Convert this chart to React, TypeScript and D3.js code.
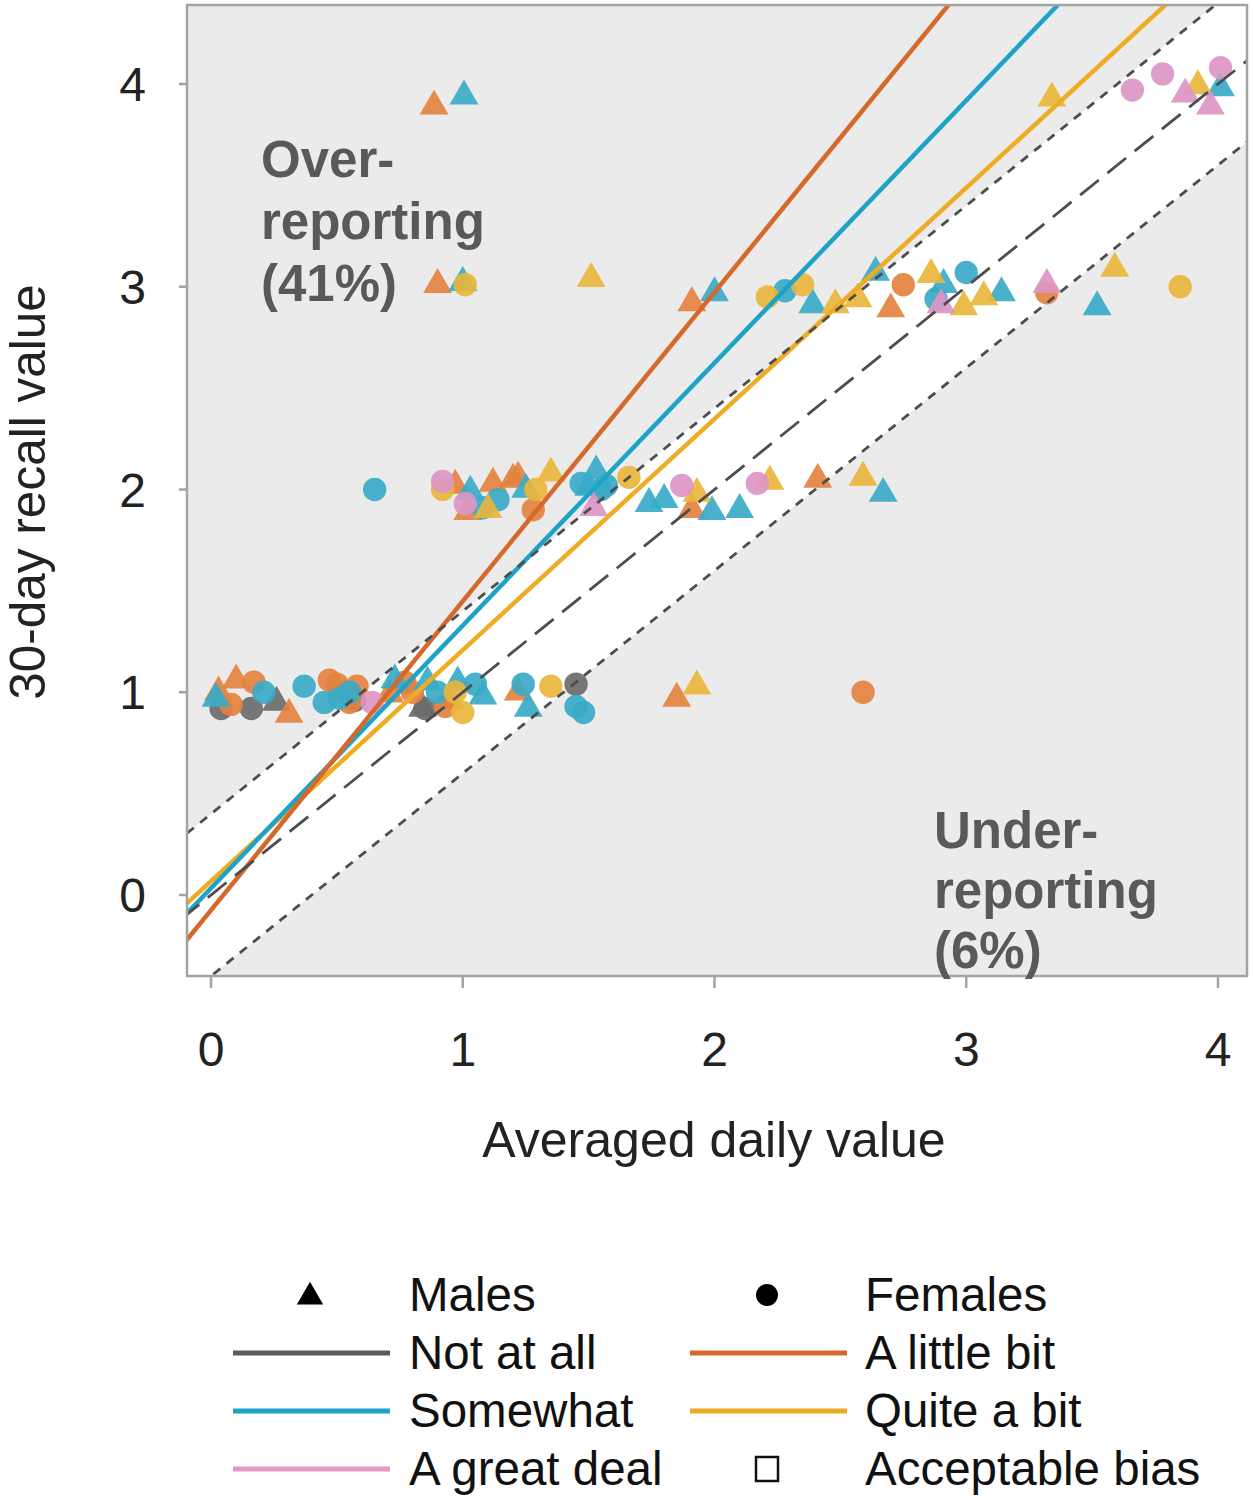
import * as d3 from 'd3';

type Pt = [number, number, 'M' | 'F'];

// categories (legend order)
const groups = ['Not at all', 'A little bit', 'Somewhat', 'Quite a bit', 'A great deal'];

// points per group: [averaged daily, 30-day recall, sex]
const notAtAll: Pt[] = [
  [0.26, 0.96, 'M'], [0.84, 0.93, 'M'],
  [0.04, 0.92, 'F'], [0.16, 0.92, 'F'], [0.57, 0.96, 'F'], [0.85, 0.92, 'F'], [1.45, 1.04, 'F'],
];
const aLittleBit: Pt[] = [
  [0.886, 3.9, 'M'], [0.9, 3.02, 'M'], [1.91, 2.93, 'M'], [2.7, 2.9, 'M'], [0.97, 2.03, 'M'],
  [1.02, 1.9, 'M'], [1.12, 2.04, 'M'], [1.2, 2.06, 'M'], [1.22, 2.07, 'M'], [1.91, 1.91, 'M'],
  [2.41, 2.06, 'M'], [0.03, 1.01, 'M'], [0.1, 1.07, 'M'], [0.31, 0.9, 'M'], [0.71, 1.0, 'M'],
  [0.95, 0.97, 'M'], [1.22, 1.01, 'M'], [1.85, 0.98, 'M'],
  [2.75, 3.01, 'F'], [3.32, 2.97, 'F'], [1.28, 1.9, 'F'], [0.08, 0.94, 'F'], [0.17, 1.05, 'F'],
  [0.47, 1.06, 'F'], [0.5, 1.04, 'F'], [0.53, 1.0, 'F'], [0.58, 1.03, 'F'], [0.77, 1.05, 'F'],
  [0.8, 1.0, 'F'], [0.93, 0.93, 'F'], [0.55, 0.95, 'F'], [2.59, 1.0, 'F'],
];
const somewhat: Pt[] = [
  [1.005, 3.95, 'M'], [1.0, 3.03, 'M'], [2.0, 2.98, 'M'], [2.39, 2.92, 'M'], [2.64, 3.08, 'M'],
  [2.91, 3.02, 'M'], [3.14, 2.98, 'M'], [3.52, 2.91, 'M'], [4.01, 3.99, 'M'], [1.03, 2.0, 'M'],
  [1.25, 2.01, 'M'], [1.53, 2.1, 'M'], [1.74, 1.94, 'M'], [1.8, 1.96, 'M'], [1.99, 1.9, 'M'],
  [2.1, 1.91, 'M'], [2.67, 1.99, 'M'], [0.02, 0.98, 'M'], [0.73, 1.07, 'M'], [0.86, 1.06, 'M'],
  [0.98, 1.06, 'M'], [1.08, 0.99, 'M'], [1.26, 0.93, 'M'], [1.5, 2.02, 'M'],
  [2.28, 2.98, 'F'], [2.88, 2.94, 'F'], [3.0, 3.07, 'F'], [0.65, 2.0, 'F'], [1.08, 1.91, 'F'],
  [1.14, 1.95, 'F'], [1.47, 2.03, 'F'], [1.55, 2.0, 'F'], [1.57, 2.02, 'F'], [0.21, 1.0, 'F'],
  [0.37, 1.03, 'F'], [0.45, 0.95, 'F'], [0.51, 0.97, 'F'], [0.55, 1.0, 'F'], [0.9, 1.0, 'F'],
  [1.05, 1.04, 'F'], [1.24, 1.04, 'F'], [1.45, 0.93, 'F'], [1.48, 0.9, 'F'],
];
const quiteABit: Pt[] = [
  [3.34, 3.94, 'M'], [3.92, 4.0, 'M'], [1.51, 3.05, 'M'], [2.48, 2.92, 'M'], [2.57, 2.95, 'M'],
  [2.86, 3.07, 'M'], [2.99, 2.91, 'M'], [3.07, 2.96, 'M'], [3.59, 3.1, 'M'], [1.35, 2.09, 'M'],
  [1.1, 1.91, 'M'], [1.93, 1.99, 'M'], [2.22, 2.05, 'M'], [2.59, 2.07, 'M'], [1.93, 1.04, 'M'],
  [1.01, 3.01, 'F'], [2.21, 2.95, 'F'], [2.35, 3.01, 'F'], [3.85, 3.0, 'F'], [0.92, 2.0, 'F'],
  [1.29, 2.0, 'F'], [1.66, 2.06, 'F'], [1.0, 0.9, 'F'], [1.35, 1.03, 'F'], [0.97, 1.0, 'F'],
];
const aGreatDeal: Pt[] = [
  [3.87, 3.96, 'M'], [3.97, 3.9, 'M'], [3.32, 3.02, 'M'], [2.9, 2.92, 'M'], [1.52, 1.92, 'M'],
  [3.66, 3.97, 'F'], [3.78, 4.05, 'F'], [4.01, 4.08, 'F'], [0.92, 2.04, 'F'], [1.01, 1.93, 'F'],
  [1.87, 2.02, 'F'], [2.17, 2.03, 'F'], [0.64, 0.95, 'F'],
];
const pointsByGroup = [notAtAll, aLittleBit, somewhat, quiteABit, aGreatDeal];

// fitted lines visible in the panel: [group index, intercept, slope]
const fits: [number, number, number][] = [
  [3, 0.068, 1.14],
  [2, 0.034, 1.295],
  [1, -0.075, 1.524],
];
const biasBand = 0.4;

const xTicks = [0, 1, 2, 3, 4];
const yTicks = [0, 1, 2, 3, 4];

const pointColors = ['#6b6b6b', '#e3823f', '#3aaac7', '#e9b53d', '#dc96c6'];
const lineColors = ['#5a5a5a', '#d5692b', '#1ea3c8', '#eeac25', '#e29ac5'];

const W = 1253;
const H = 1500;
const panel = { left: 187, right: 1247, top: 5, bottom: 976 };
const font = '"Liberation Sans", Arial, sans-serif';

export default function App() {
  const x = d3.scaleLinear().domain([0, 4]).range([211, 1218]);
  const y = d3.scaleLinear().domain([0, 4]).range([895, 84]);
  const x0 = x.invert(panel.left);
  const x1 = x.invert(panel.right);

  const band = d3.area<number>()
    .x((d) => x(d))
    .y0((d) => y(d - biasBand))
    .y1((d) => y(d + biasBand));
  const line = d3.line<[number, number]>().x((d) => x(d[0])).y((d) => y(d[1]));
  const tri = d3.symbol(d3.symbolTriangle, 360)()!;
  const circ = d3.symbol(d3.symbolCircle, 430)()!;
  const legTri = d3.symbol(d3.symbolTriangle, 300)()!;
  const legCirc = d3.symbol(d3.symbolCircle, 380)()!;

  const allPts = pointsByGroup.flatMap((pts, g) => pts.map((p) => ({ x: p[0], y: p[1], sex: p[2], g })));

  const legendRows = [
    { label: 'Males', kind: 'tri' }, { label: 'Females', kind: 'circ' },
    { label: groups[0], kind: 'line', c: lineColors[0] }, { label: groups[1], kind: 'line', c: lineColors[1] },
    { label: groups[2], kind: 'line', c: lineColors[2] }, { label: groups[3], kind: 'line', c: lineColors[3] },
    { label: groups[4], kind: 'line', c: lineColors[4] }, { label: 'Acceptable bias', kind: 'square' },
  ];

  return (
    <div style={{ position: 'absolute', left: 0, top: 0 }}>
      <svg width={W} height={H} style={{ display: 'block', background: '#fff' }}>
        <defs>
          <clipPath id="panel">
            <rect x={panel.left} y={panel.top} width={panel.right - panel.left} height={panel.bottom - panel.top} />
          </clipPath>
        </defs>
        <rect x={panel.left} y={panel.top} width={panel.right - panel.left} height={panel.bottom - panel.top} fill="#ebebeb" />
        <g clipPath="url(#panel)">
          <path d={band([x0 - 1, x1 + 1])!} fill="#ffffff" />
          {allPts.map((p, i) => (
            <path key={i} d={p.sex === 'M' ? tri : circ}
              transform={`translate(${x(p.x)},${y(p.y) + (p.sex === 'M' ? 2 : 0)})`}
              fill={pointColors[p.g]} fillOpacity={0.92} />
          ))}
          {fits.map(([g, a, b]) => (
            <path key={g} d={line([[x0 - 0.1, a + b * (x0 - 0.1)], [x1, a + b * x1]])!}
              stroke={lineColors[g]} strokeWidth={4.5} fill="none" />
          ))}
          <path d={line([[x0 - 1, x0 - 1], [x1 + 1, x1 + 1]])!} stroke="#4d4d4d" strokeWidth={2.8} strokeDasharray="24,11" fill="none" />
          {[biasBand, -biasBand].map((c) => (
            <path key={c} d={line([[x0 - 1, x0 - 1 + c], [x1 + 1, x1 + 1 + c]])!} stroke="#4d4d4d" strokeWidth={2.8} strokeDasharray="9,8" fill="none" />
          ))}
        </g>
        <rect x={panel.left} y={panel.top} width={panel.right - panel.left} height={panel.bottom - panel.top} fill="none" stroke="#a3a3a3" strokeWidth={2.5} />

        {/* annotations */}
        <g fontFamily={font} fontWeight="bold" fontSize={51} fill="#595959">
          {['Over-', 'reporting', '(41%)'].map((t, i) => (
            <text key={t} x={261} y={177 + i * 62}>{t}</text>
          ))}
          {['Under-', 'reporting', '(6%)'].map((t, i) => (
            <text key={t} x={934} y={848 + i * 60}>{t}</text>
          ))}
        </g>

        {/* axes */}
        <g fontFamily={font} fontSize={48} fill="#222">
          {xTicks.map((t) => (
            <g key={t}>
              <line x1={x(t)} x2={x(t)} y1={panel.bottom} y2={panel.bottom + 12} stroke="#a3a3a3" strokeWidth={2.5} />
              <text x={x(t)} y={1066} textAnchor="middle">{t}</text>
            </g>
          ))}
          {yTicks.map((t) => (
            <g key={t}>
              <line x1={panel.left - 8} x2={panel.left} y1={y(t)} y2={y(t)} stroke="#a3a3a3" strokeWidth={2.5} />
              <text x={146} y={y(t) + 17} textAnchor="end">{t}</text>
            </g>
          ))}
          <text x={714} y={1157} fontSize={50} textAnchor="middle">Averaged daily value</text>
          <text transform="translate(45,492) rotate(-90)" fontSize={49.5} textAnchor="middle">30-day recall value</text>
        </g>

        {/* legend */}
        <g fontFamily={font} fontSize={47.5} fill="#111">
          {legendRows.map((r, i) => {
            const col = i % 2;
            const row = Math.floor(i / 2);
            const cx = col === 0 ? 310 : 767;
            const tx = col === 0 ? 409 : 865;
            const cy = 1295 + row * 58;
            return (
              <g key={r.label}>
                {r.kind === 'tri' && <path d={legTri} transform={`translate(${cx},${cy + 2})`} fill="#000" />}
                {r.kind === 'circ' && <path d={legCirc} transform={`translate(${cx},${cy})`} fill="#000" />}
                {r.kind === 'line' && <line x1={cx - 77} x2={cx + 80} y1={cy} y2={cy} stroke={r.c} strokeWidth={5} />}
                {r.kind === 'square' && <rect x={cx - 11} y={cy - 12} width={22} height={24} fill="none" stroke="#111" strokeWidth={2.5} />}
                <text x={tx} y={cy + 16}>{r.label}</text>
              </g>
            );
          })}
        </g>
      </svg>
    </div>
  );
}
